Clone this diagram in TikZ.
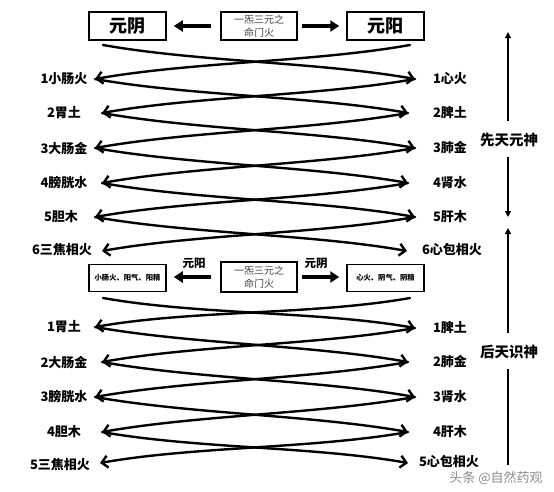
\documentclass[tikz,border=0pt]{standalone}
\usepackage{fontspec}
\setmainfont{Noto Sans CJK SC}
\usetikzlibrary{arrows.meta}

\begin{document}
\begin{tikzpicture}[x=1pt, y=-1pt,
    box/.style={draw, line width=1.5pt, minimum width=77pt, minimum height=28pt, inner sep=0pt},
    bigtext/.style={font=\bfseries\fontsize{18}{18}\selectfont},
    mid/.style={font=\fontsize{10}{12.5}\selectfont, align=center, text=black!75},
    lbl/.style={font=\bfseries\fontsize{13}{13}\selectfont},
    side/.style={font=\bfseries\fontsize{14.5}{14.5}\selectfont},
    small/.style={font=\bfseries\fontsize{7.3}{7.3}\selectfont},
    fat/.style={line width=3.8pt, -{Triangle[length=9pt,width=11pt]}},
    zz/.style={line width=2.4pt, line cap=round, -{Straight Barb[length=6pt,width=12pt]}, looseness=0.8},
    zr/.style={zz, out=-10, in=170},
    zl/.style={zz, out=190, in=10},
    thin/.style={line width=1.2pt, -{Triangle[length=6pt,width=6pt]}},
  ]
  \useasboundingbox (0,0) rectangle (554,491);

  % top row
  \node[box, bigtext] (yin) at (127.5,26) {元阴};
  \node[box, mid, minimum width=76pt] (fire) at (259,26) {一炁三元之\\命门火};
  \node[box, bigtext] (yang) at (385.5,26) {元阳};
  \draw[fat, shorten <=9pt, shorten >=7pt] (fire) -- (yin);
  \draw[fat, shorten <=4pt, shorten >=7pt] (fire) -- (yang);

  % middle row
  \node[box, small, minimum height=27pt] (xc) at (127.5,278) {小肠火、阳气、阳精};
  \node[box, mid, minimum width=76pt, minimum height=30pt] (fire2) at (259,277) {一炁三元之\\命门火};
  \node[box, small, minimum height=27pt] (xx) at (385.5,278) {心火、阴气、阴精};
  \draw[fat, shorten <=9pt, shorten >=7pt] (fire2.west) -- (fire2.west -| xc.east);
  \draw[fat, shorten <=4pt, shorten >=7pt] (fire2.east) -- (fire2.east -| xx.west);
  \node[lbl, font=\bfseries\fontsize{11.5}{11.5}\selectfont] (yangt) at (194,263) {元阳};
  \node[lbl, font=\bfseries\fontsize{11.5}{11.5}\selectfont] (yint) at (316,263) {元阴};

  % labels, upper part
  \node[lbl] (a1) at (64,79) {1小肠火};
  \node[lbl] (a2) at (64,113) {2胃土};
  \node[lbl] (a3) at (64,148) {3大肠金};
  \node[lbl] (a4) at (64,183) {4膀胱水};
  \node[lbl] (a5) at (61,217) {5胆木};
  \node[lbl] (a6) at (62,250) {6三焦相火};
  \node[lbl] (b1) at (450,79) {1心火};
  \node[lbl] (b2) at (450,113) {2脾土};
  \node[lbl] (b3) at (450,148) {3肺金};
  \node[lbl] (b4) at (450,183) {4肾水};
  \node[lbl] (b5) at (450,217) {5肝木};
  \node[lbl] (b6) at (452,250) {6心包相火};

  % labels, lower part
  \node[lbl] (c1) at (64,327) {1胃土};
  \node[lbl] (c2) at (64,362) {2大肠金};
  \node[lbl] (c3) at (64,397) {3膀胱水};
  \node[lbl] (c4) at (64,432) {4胆木};
  \node[lbl] (c5) at (60,465) {5三焦相火};
  \node[lbl] (d1) at (450,328) {1脾土};
  \node[lbl] (d2) at (450,362) {2肺金};
  \node[lbl] (d3) at (450,397) {3肾水};
  \node[lbl] (d4) at (450,432) {4肝木};
  \node[lbl] (d5) at (449,462) {5心包相火};

  % tips
  \coordinate (s1) at (103,45);  \coordinate (t1) at (410,45);
  \coordinate (L1) at (95,79);   \coordinate (R1) at (415,79);
  \coordinate (L2) at (102,113); \coordinate (R2) at (408,113);
  \coordinate (L3) at (95,148);  \coordinate (R3) at (415,148);
  \coordinate (L4) at (102,183); \coordinate (R4) at (408,183);
  \coordinate (L5) at (95,217);  \coordinate (R5) at (415,217);
  \coordinate (L6) at (102,251); \coordinate (R6) at (407,251);

  \coordinate (s2) at (103,298); \coordinate (t2) at (410,298);
  \coordinate (M1) at (95,327);  \coordinate (N1) at (415,328);
  \coordinate (M2) at (102,362); \coordinate (N2) at (408,362);
  \coordinate (M3) at (95,397);  \coordinate (N3) at (415,397);
  \coordinate (M4) at (102,432); \coordinate (N4) at (408,432);
  \coordinate (M5) at (100,463); \coordinate (N5) at (408,463);

  % crossing zigzags
  \foreach \p/\q/\s in {s1/R1/zr, R1/L2/zl, L2/R3/zr, R3/L4/zl, L4/R5/zr, R5/L6/zl,
                        t1/L1/zl, L1/R2/zr, R2/L3/zl, L3/R4/zr, R4/L5/zl, L5/R6/zr,
                        s2/N1/zr, N1/M2/zl, M2/N3/zr, N3/M4/zl, M4/N5/zr,
                        t2/M1/zl, M1/N2/zr, N2/M3/zl, M3/N4/zr, N4/M5/zl}
    \draw[\s] (\p) to (\q);

  % right side
  \node[side] (xt) at (509,140) {先天元神};
  \node[side] (ht) at (509,352) {后天识神};
  \coordinate (xtop) at (508,32);  \coordinate (xbot) at (508,217);
  \coordinate (htop) at (508,228); \coordinate (hbot) at (508,465);
  \draw[thin, shorten <=9pt] (xt.north -| xtop) -- (xtop);
  \draw[thin, shorten <=7pt] (xt.south -| xbot) -- (xbot);
  \draw[thin, shorten <=9pt] (ht.north -| htop) -- (htop);
  \draw[line width=1.2pt, shorten <=7pt] (ht.south -| hbot) -- (hbot);

  % watermark
  \node[font=\fontsize{13}{13}\selectfont, text=black!45] (wm) at (496,478) {头条 @自然药观};
\end{tikzpicture}
\end{document}
